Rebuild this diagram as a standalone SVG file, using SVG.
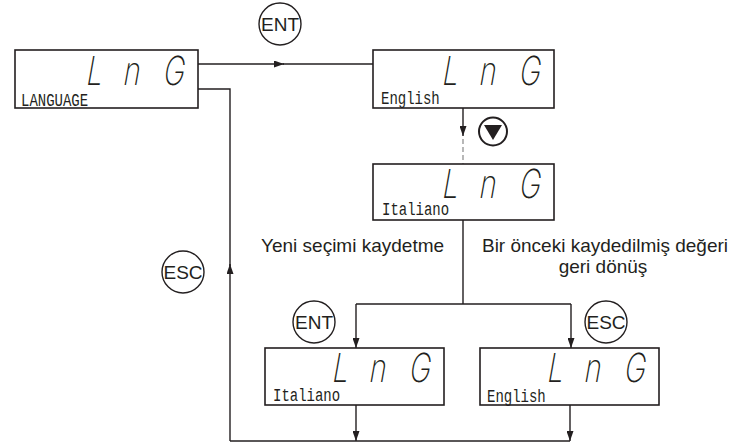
<svg xmlns="http://www.w3.org/2000/svg" width="734" height="445" viewBox="0 0 734 445">
<defs>
<style>
.box{fill:#fff;stroke:#231f20;stroke-width:1.6}
.ln{fill:none;stroke:#231f20;stroke-width:1.4}
.dash{fill:none;stroke:#9a9a9a;stroke-width:1.4;stroke-dasharray:5 3}
.seg{font-family:Inter,"DejaVu Sans",sans-serif;font-weight:200;font-size:40px;fill:#231f20}
.lbl{font-family:"Liberation Mono",monospace;font-size:14px;fill:#231f20}
.txt{font-family:"Liberation Sans",Arial,sans-serif;font-size:19px;fill:#231f20}
.key{fill:#fff;stroke:#231f20;stroke-width:1.4}
.keyt{font-family:"Liberation Sans",Arial,sans-serif;font-size:19px;fill:#231f20;text-anchor:middle}
</style>
<marker id="ah" viewBox="0 0 10 7" refX="10" refY="3.5" markerWidth="10" markerHeight="7" markerUnits="userSpaceOnUse" orient="auto">
<path d="M0,0 L10,3.5 L0,7 z" fill="#231f20"/>
</marker>
</defs>
<rect width="734" height="445" fill="#fff"/>

<g id="connectors">
<path class="ln" d="M198,64 H284" marker-end="url(#ah)"/>
<path class="ln" d="M283,64 H373"/>
<path class="ln" d="M463,108 V136" marker-end="url(#ah)"/>
<path class="dash" d="M463,139 V164"/>
<path class="ln" d="M463,220 V304 M356,304 H571"/>
<path class="ln" d="M356,304 V348" marker-end="url(#ah)"/>
<path class="ln" d="M571,304 V348" marker-end="url(#ah)"/>
<path class="ln" d="M356,405 V441" marker-end="url(#ah)"/>
<path class="ln" d="M570,405 V441" marker-end="url(#ah)"/>
<path class="ln" d="M230,441 H570"/>
<path class="ln" d="M230,441 V264" marker-end="url(#ah)"/>
<path class="ln" d="M230,266 V89 H198"/>
</g>

<g id="n1">
<rect class="box" x="15" y="50" width="183" height="58"/>
<g transform="translate(0,85)">
<text class="seg" transform="translate(85,0) skewX(-10) scale(0.72,1)">L</text>
<text class="seg" transform="translate(122,0) skewX(-10) scale(0.72,1)">n</text>
<text class="seg" transform="translate(162,0) skewX(-10) scale(0.72,1)">G</text>
</g>
<text class="lbl" transform="translate(21,106) scale(1,1.25)">LANGUAGE</text>
</g>

<g id="n2">
<rect class="box" x="373" y="50" width="181" height="58"/>
<g transform="translate(0,85)">
<text class="seg" transform="translate(441,0) skewX(-10) scale(0.72,1)">L</text>
<text class="seg" transform="translate(478,0) skewX(-10) scale(0.72,1)">n</text>
<text class="seg" transform="translate(518,0) skewX(-10) scale(0.72,1)">G</text>
</g>
<text class="lbl" transform="translate(381,104) scale(1,1.25)">English</text>
</g>

<g id="n3">
<rect class="box" x="373" y="164" width="181" height="56"/>
<g transform="translate(0,198)">
<text class="seg" transform="translate(441,0) skewX(-10) scale(0.72,1)">L</text>
<text class="seg" transform="translate(478,0) skewX(-10) scale(0.72,1)">n</text>
<text class="seg" transform="translate(518,0) skewX(-10) scale(0.72,1)">G</text>
</g>
<text class="lbl" transform="translate(382,215) scale(1,1.25)">Italiano</text>
</g>

<g id="n4">
<rect class="box" x="265" y="348" width="179" height="57"/>
<g transform="translate(0,382)">
<text class="seg" transform="translate(331,0) skewX(-10) scale(0.72,1)">L</text>
<text class="seg" transform="translate(368,0) skewX(-10) scale(0.72,1)">n</text>
<text class="seg" transform="translate(408,0) skewX(-10) scale(0.72,1)">G</text>
</g>
<text class="lbl" transform="translate(273,401) scale(1,1.25)">Italiano</text>
</g>

<g id="n5">
<rect class="box" x="480" y="348" width="179" height="57"/>
<g transform="translate(0,382)">
<text class="seg" transform="translate(546,0) skewX(-10) scale(0.72,1)">L</text>
<text class="seg" transform="translate(583,0) skewX(-10) scale(0.72,1)">n</text>
<text class="seg" transform="translate(623,0) skewX(-10) scale(0.72,1)">G</text>
</g>
<text class="lbl" transform="translate(487,402) scale(1,1.25)">English</text>
</g>

<g id="key-ent-top">
<circle class="key" cx="280" cy="24" r="21"/>
<text class="keyt" x="280" y="31">ENT</text>
</g>
<g id="key-down">
<circle cx="493" cy="131.5" r="14" fill="#fff" stroke="#231f20" stroke-width="2"/>
<path d="M484,125 L502,125 L493,140 z" fill="#231f20"/>
</g>
<g id="key-esc-left">
<circle class="key" cx="183" cy="272" r="21"/>
<text class="keyt" x="183" y="279">ESC</text>
</g>
<g id="key-ent-bottom">
<circle class="key" cx="314" cy="322" r="21"/>
<text class="keyt" x="314" y="329">ENT</text>
</g>
<g id="key-esc-right">
<circle class="key" cx="606" cy="322" r="21"/>
<text class="keyt" x="606" y="329">ESC</text>
</g>

<g id="labels">
<text class="txt" x="261" y="252">Yeni seçimi kaydetme</text>
<text class="txt" x="605" y="252" text-anchor="middle">Bir önceki kaydedilmiş değeri</text>
<text class="txt" x="603" y="273" text-anchor="middle">geri dönüş</text>
</g>
</svg>
